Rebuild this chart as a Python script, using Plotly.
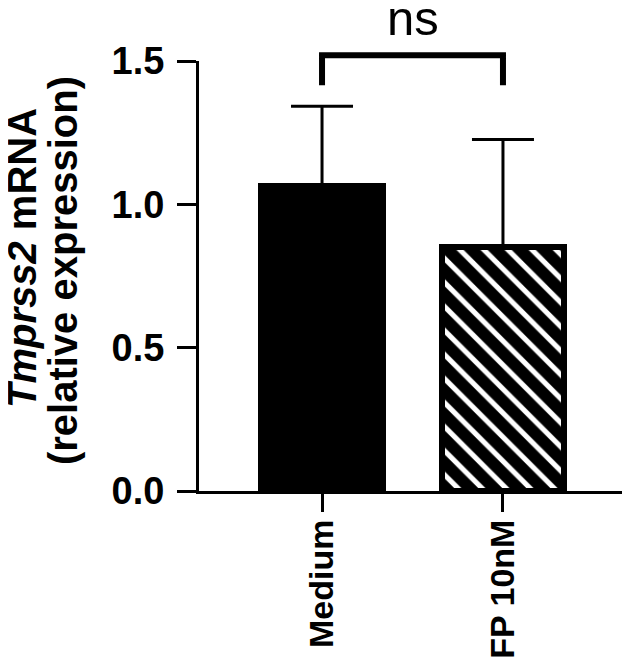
import plotly.graph_objects as go

# bar means and upper SEM
groups = ["Medium", "FP 10nM"]
means = [1.064, 0.85]
sem = [0.278, 0.376]
y_ticks = [0.0, 0.5, 1.0, 1.5]
y_max = 1.5

# significance bracket between the two groups
bracket_top = 1.52
bracket_bottom = 1.415
bracket_label = "ns"

# y title lines (set as separate annotations to get the tight line spacing)
title_lines = ["<i>Tmprss2</i> mRNA", "(relative expression)"]

FONT = "Liberation Sans, Arial, sans-serif"

fig = go.Figure()

fig.add_trace(go.Bar(
    x=groups,
    y=means,
    width=0.677,
    marker=dict(
        color="black",
        line=dict(color="black", width=6),
        pattern=dict(shape=["", "\\"], fgcolor="white", fgopacity=1,
                     fillmode="overlay", size=17, solidity=0.3),
    ),
    error_y=dict(type="data", array=sem, arrayminus=[0, 0], symmetric=False,
                 color="black", thickness=3, width=31),
    showlegend=False,
))

# bracket drawn in x data / y domain coordinates so it can sit above the axis top
def ydom(v):
    return v / y_max

fig.add_shape(
    type="path",
    xref="x", yref="y domain",
    path=(f"M 0,{ydom(bracket_bottom)} L 0,{ydom(bracket_top)} "
          f"L 1,{ydom(bracket_top)} L 1,{ydom(bracket_bottom)}"),
    line=dict(color="black", width=6),
)
fig.add_annotation(
    x=0.5, xref="x", y=ydom(bracket_top), yref="y domain",
    text=bracket_label, showarrow=False, yanchor="bottom", yshift=8,
    font=dict(family=FONT, size=49, color="black"),
)

for txt, xp, yp in zip(title_lines, [-0.413, -0.317], [0.541, 0.513]):
    fig.add_annotation(
        x=xp, y=yp, xref="paper", yref="paper", text=txt, showarrow=False,
        textangle=-90, xanchor="center", yanchor="middle",
        font=dict(family=FONT, size=40, color="black", weight="bold"),
    )

# the page body adds an 8px offset, so margins are shifted to compensate
fig.update_layout(
    width=630, height=662,
    margin=dict(l=191, r=12, t=53, b=179),
    plot_bgcolor="white", paper_bgcolor="white",
    font=dict(family=FONT, color="black"),
    bargap=0,
)
fig.update_xaxes(
    type="category", range=[-0.68, 1.68], automargin=False,
    showline=True, linecolor="black", linewidth=3,
    ticks="outside", ticklen=18, tickwidth=3, tickcolor="black",
    tickangle=-90, ticklabelstandoff=-6, showgrid=False, zeroline=False,
    tickfont=dict(family=FONT, size=34, color="black", weight="bold"),
)
fig.update_yaxes(
    range=[0, y_max], tickvals=y_ticks, tickformat=".1f", automargin=False,
    showline=True, linecolor="black", linewidth=3,
    ticks="outside", ticklen=19, tickwidth=3, tickcolor="black",
    ticklabelstandoff=5, showgrid=False, zeroline=False,
    tickfont=dict(family=FONT, size=38, color="black", weight="bold"),
)

fig.write_html("out.html")
